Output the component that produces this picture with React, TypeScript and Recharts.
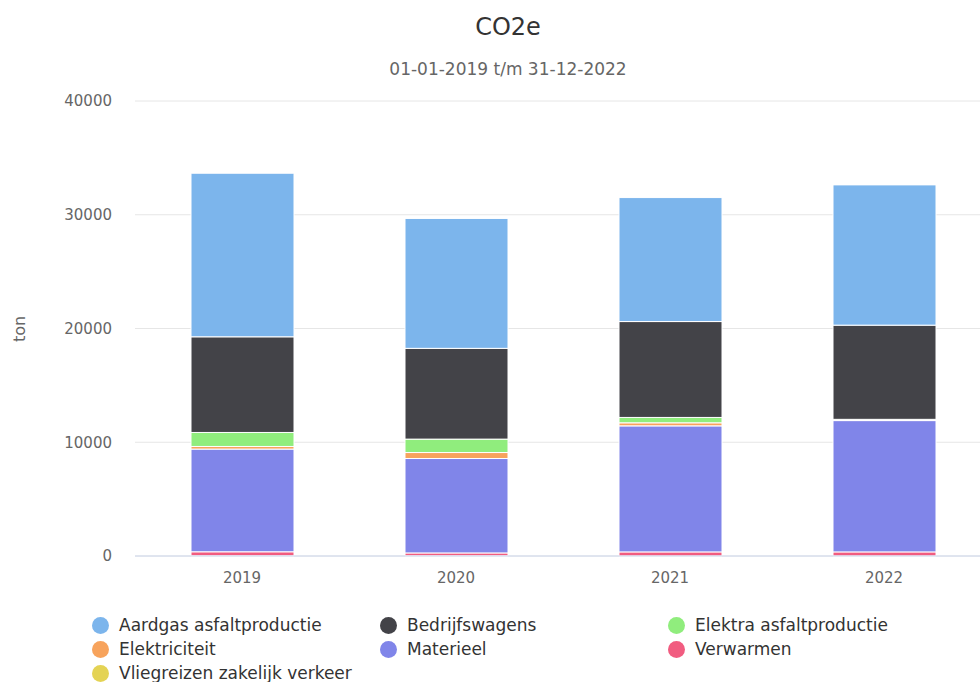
import { BarChart, Bar, XAxis, YAxis, CartesianGrid } from "recharts";

const years = ["2019", "2020", "2021", "2022"];
const aardgas = [14380, 11420, 10900, 12330];
const bedrijfswagens = [8410, 7980, 8430, 8280];
const elektra = [1230, 1180, 470, 60];
const elektriciteit = [230, 525, 270, 50];
const materieel = [9030, 8300, 11080, 11545];
const verwarmen = [350, 250, 350, 350];
const vliegreizen = [20, 20, 10, 10];
const yTicks = [0, 10000, 20000, 30000, 40000];

// legend order (Highcharts puts the first series on top of the stack)
const series = [
  { key: "Aardgas asfaltproductie", values: aardgas, color: "#7cb5ec" },
  { key: "Bedrijfswagens", values: bedrijfswagens, color: "#434348" },
  { key: "Elektra asfaltproductie", values: elektra, color: "#90ed7d" },
  { key: "Elektriciteit", values: elektriciteit, color: "#f7a35c" },
  { key: "Materieel", values: materieel, color: "#8085e9" },
  { key: "Verwarmen", values: verwarmen, color: "#f15c80" },
  { key: "Vliegreizen zakelijk verkeer", values: vliegreizen, color: "#e4d354" },
];

const data = years.map((year, i) => {
  const row: Record<string, string | number> = { year };
  series.forEach((s) => {
    row[s.key] = s.values[i];
  });
  return row;
});

const font = '"DejaVu Sans", sans-serif';

export default function App() {
  const stacked = [...series].reverse();
  return (
    <div
      style={{
        position: "absolute",
        left: 0,
        top: 0,
        width: 980,
        height: 682,
        overflow: "hidden",
        background: "#fff",
        fontFamily: font,
      }}
    >
      <div
        style={{
          position: "absolute",
          left: 308,
          width: 400,
          top: 13,
          textAlign: "center",
          fontSize: 24,
          color: "#333333",
        }}
      >
        CO2e
      </div>
      <div
        style={{
          position: "absolute",
          left: 308,
          width: 400,
          top: 59,
          textAlign: "center",
          fontSize: 17,
          color: "#666666",
        }}
      >
        01-01-2019 t/m 31-12-2022
      </div>
      <div
        style={{
          position: "absolute",
          left: 19,
          top: 329,
          transform: "translate(-50%, -50%) rotate(-90deg)",
          fontSize: 16,
          color: "#666666",
          whiteSpace: "nowrap",
        }}
      >
        ton
      </div>
      <div style={{ position: "absolute", left: 0, top: 0 }}>
        <BarChart
          width={1000}
          height={682}
          data={data}
          margin={{ top: 101, right: 9, bottom: 96, left: 0 }}
        >
          <CartesianGrid vertical={false} stroke="#e6e6e6" />
          <XAxis
            dataKey="year"
            height={30}
            tickLine={false}
            tickSize={0}
            tickMargin={16}
            stroke="#ccd6eb"
            tick={{ fill: "#666666", fontSize: 15, fontFamily: font }}
          />
          <YAxis
            width={135}
            domain={[0, 40000]}
            ticks={yTicks}
            axisLine={false}
            tickLine={false}
            tickSize={0}
            tickMargin={23}
            tick={{ fill: "#666666", fontSize: 15, fontFamily: font }}
          />
          {stacked.map((s) => (
            <Bar
              key={s.key}
              dataKey={s.key}
              stackId="a"
              fill={s.color}
              stroke="#ffffff"
              strokeWidth={1}
              barSize={103}
              isAnimationActive={false}
            />
          ))}
        </BarChart>
      </div>
      <div style={{ position: "absolute", left: 92, top: 615, width: 880 }}>
        <div
          style={{
            display: "grid",
            gridTemplateColumns: "288px 288px 288px",
            rowGap: 4,
          }}
        >
          {series.map((s) => (
            <div
              key={s.key}
              style={{
                display: "flex",
                alignItems: "center",
                height: 20,
                fontSize: 17,
                color: "#333333",
                whiteSpace: "nowrap",
              }}
            >
              <span
                style={{
                  display: "inline-block",
                  width: 17,
                  height: 17,
                  borderRadius: "50%",
                  background: s.color,
                  marginRight: 10,
                }}
              />
              {s.key}
            </div>
          ))}
        </div>
      </div>
    </div>
  );
}
